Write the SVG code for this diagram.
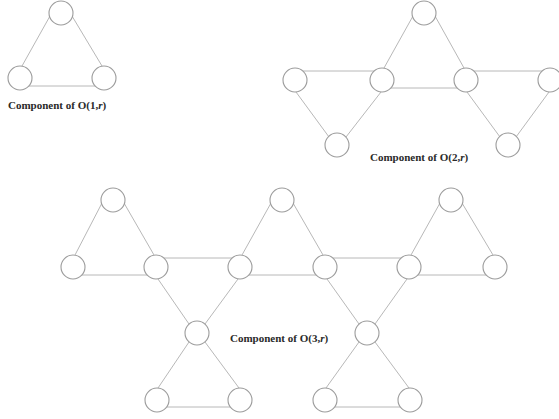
<svg xmlns="http://www.w3.org/2000/svg" width="559" height="419" viewBox="0 0 559 419">
  <style>
    .node circle { fill: #ffffff; stroke: #9c9c9c; stroke-width: 1.1; }
    .edges line { stroke: #b8b8b8; stroke-width: 1; }
    .label { font-family: "Liberation Serif", "Times New Roman", serif; font-size: 11px; font-weight: bold; fill: #2a2a2a; }
  </style>
  <rect width="559" height="419" fill="#ffffff"/>

  <!-- connectors -->
  <g id="edges" class="edges">
    <!-- O(1,r) -->
    <line x1="50" y1="16" x2="22" y2="66"/>
    <line x1="72" y1="16" x2="102" y2="66"/>
    <line x1="29" y1="86" x2="95" y2="86"/>
    <!-- O(2,r) -->
    <line x1="413" y1="16" x2="384" y2="68"/>
    <line x1="435" y1="16" x2="464" y2="68"/>
    <line x1="303" y1="71" x2="374" y2="71"/>
    <line x1="391" y1="88" x2="457" y2="88"/>
    <line x1="474" y1="71" x2="542" y2="71"/>
    <line x1="296" y1="92" x2="329" y2="137"/>
    <line x1="381" y1="92" x2="346" y2="137"/>
    <line x1="467" y1="92" x2="500" y2="137"/>
    <line x1="549" y1="92" x2="516" y2="137"/>
    <!-- O(3,r) -->
    <line x1="102" y1="203" x2="75" y2="255"/>
    <line x1="124" y1="203" x2="154" y2="255"/>
    <line x1="82" y1="275" x2="147" y2="275"/>
    <line x1="164" y1="258" x2="232" y2="258"/>
    <line x1="271" y1="203" x2="242" y2="255"/>
    <line x1="293" y1="203" x2="323" y2="255"/>
    <line x1="249" y1="275" x2="316" y2="275"/>
    <line x1="333" y1="258" x2="401" y2="258"/>
    <line x1="440" y1="203" x2="411" y2="255"/>
    <line x1="462" y1="203" x2="493" y2="255"/>
    <line x1="418" y1="275" x2="486" y2="275"/>
    <line x1="158" y1="279" x2="189" y2="324"/>
    <line x1="205" y1="342" x2="239" y2="388"/>
    <line x1="238" y1="279" x2="205" y2="324"/>
    <line x1="189" y1="342" x2="158" y2="388"/>
    <line x1="327" y1="279" x2="359" y2="324"/>
    <line x1="375" y1="342" x2="409" y2="388"/>
    <line x1="407" y1="279" x2="375" y2="324"/>
    <line x1="359" y1="342" x2="326" y2="388"/>
    <line x1="167" y1="407" x2="230" y2="407"/>
    <line x1="335" y1="407" x2="400" y2="407"/>
  </g>

  <!-- O(1,r) nodes -->
  <g id="c1-top" class="node"><circle cx="61" cy="13" r="12"/></g>
  <g id="c1-left" class="node"><circle cx="20" cy="78" r="12"/></g>
  <g id="c1-right" class="node"><circle cx="104" cy="78" r="12"/></g>

  <!-- O(2,r) nodes -->
  <g id="c2-top" class="node"><circle cx="424" cy="13" r="12"/></g>
  <g id="c2-outer-left" class="node"><circle cx="295" cy="80" r="12"/></g>
  <g id="c2-mid-left" class="node"><circle cx="382" cy="80" r="12"/></g>
  <g id="c2-mid-right" class="node"><circle cx="466" cy="80" r="12"/></g>
  <g id="c2-outer-right" class="node"><circle cx="550" cy="80" r="12"/></g>
  <g id="c2-bottom-left" class="node"><circle cx="337" cy="145" r="12"/></g>
  <g id="c2-bottom-right" class="node"><circle cx="508" cy="145" r="12"/></g>

  <!-- O(3,r) nodes -->
  <g id="c3-top-1" class="node"><circle cx="113" cy="200" r="12"/></g>
  <g id="c3-top-2" class="node"><circle cx="282" cy="200" r="12"/></g>
  <g id="c3-top-3" class="node"><circle cx="451" cy="200" r="12"/></g>
  <g id="c3-row-1" class="node"><circle cx="73" cy="267" r="12"/></g>
  <g id="c3-row-2" class="node"><circle cx="156" cy="267" r="12"/></g>
  <g id="c3-row-3" class="node"><circle cx="240" cy="267" r="12"/></g>
  <g id="c3-row-4" class="node"><circle cx="325" cy="267" r="12"/></g>
  <g id="c3-row-5" class="node"><circle cx="409" cy="267" r="12"/></g>
  <g id="c3-row-6" class="node"><circle cx="495" cy="267" r="12"/></g>
  <g id="c3-cross-1" class="node"><circle cx="197" cy="333" r="12"/></g>
  <g id="c3-cross-2" class="node"><circle cx="367" cy="333" r="12"/></g>
  <g id="c3-bottom-1" class="node"><circle cx="157" cy="400" r="12"/></g>
  <g id="c3-bottom-2" class="node"><circle cx="240" cy="400" r="12"/></g>
  <g id="c3-bottom-3" class="node"><circle cx="325" cy="400" r="12"/></g>
  <g id="c3-bottom-4" class="node"><circle cx="410" cy="400" r="12"/></g>

  <!-- captions -->
  <text class="label" x="8" y="109">Component of O(1,<tspan font-style="italic">r</tspan>)</text>
  <text class="label" x="370" y="161">Component of O(2,<tspan font-style="italic">r</tspan>)</text>
  <text class="label" x="230" y="342">Component of O(3,<tspan font-style="italic">r</tspan>)</text>
</svg>
